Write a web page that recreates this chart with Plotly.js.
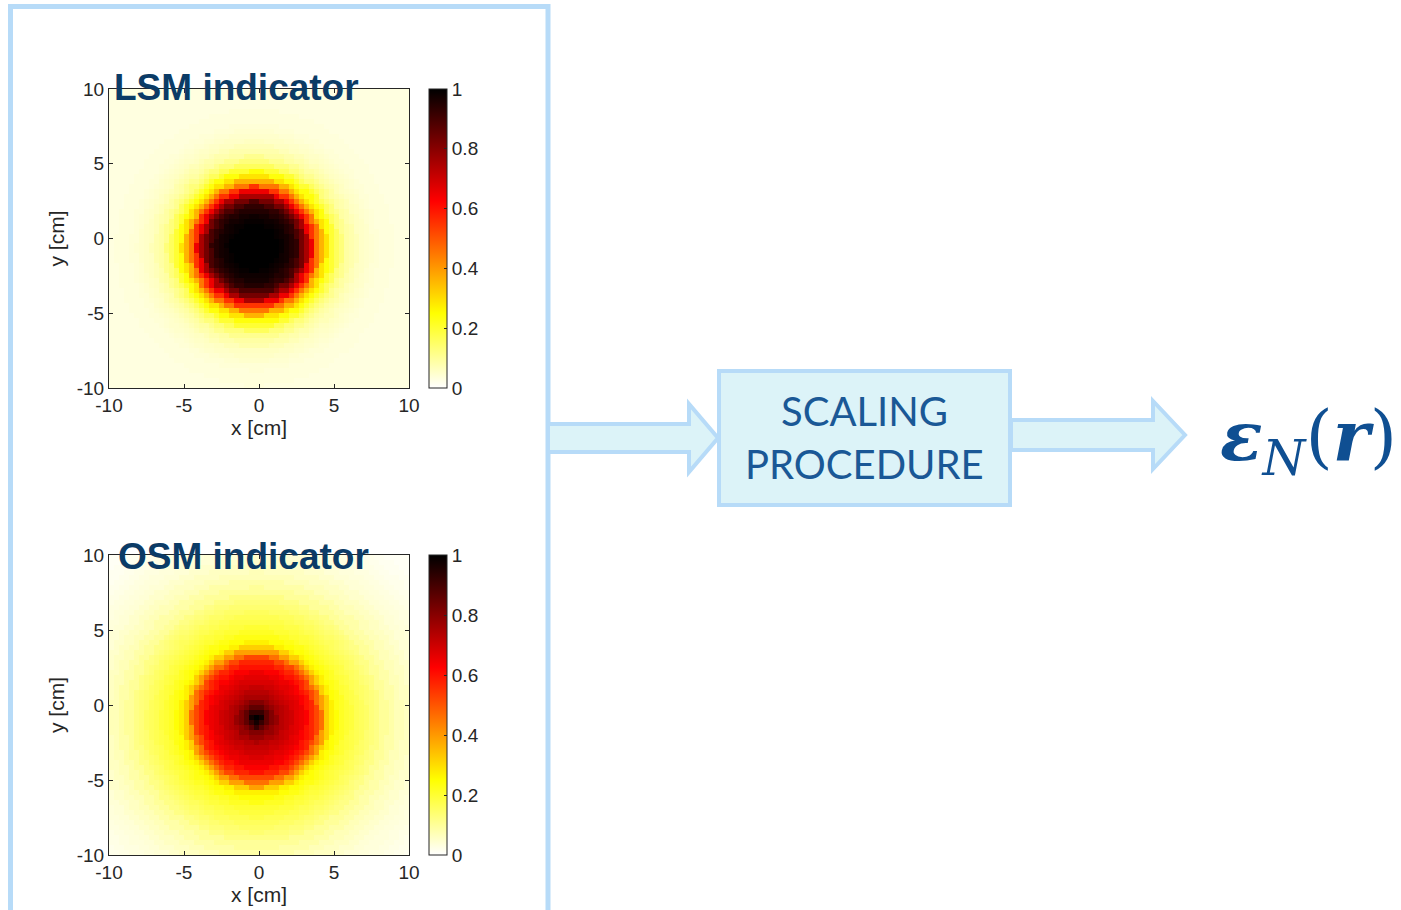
<!DOCTYPE html>
<html>
<head>
<meta charset="utf-8">
<script src="https://cdn.plot.ly/plotly-3.0.1.min.js"></script>
<style>html,body{margin:0;padding:0;background:#fff;}#chart{width:1401px;height:910px;}</style>
</head>
<body>
<div id="chart"></div>
<script>
// ---- data ----
// radial profile samples (cm from the spot centre) and indicator values along the radius
const radiusSamples = [0,0.25,0.5,0.75,1,1.25,1.5,1.75,2,2.25,2.5,2.75,3,3.25,3.5,3.75,4,4.25,4.5,4.75,5,5.25,5.5,5.75,6,6.25,6.5,6.75,7,7.25,7.5,7.75,8,8.5,9,9.5,10,10.5,11,11.5,12,12.5,13,13.5,14,14.5];
const lsmProfile = [1,1,1,1,1,1,1,0.99,0.98,0.97,0.95,0.93,0.89,0.83,0.75,0.65,0.55,0.45,0.36,0.29,0.24,0.2,0.16,0.13,0.11,0.09,0.08,0.07,0.06,0.055,0.05,0.045,0.04,0.035,0.035,0.03,0.03,0.03,0.03,0.03,0.03,0.03,0.03,0.03,0.03,0.03];
const osmProfile = [1,0.97,0.92,0.86,0.81,0.78,0.75,0.73,0.71,0.695,0.68,0.665,0.65,0.63,0.6,0.57,0.52,0.46,0.39,0.32,0.27,0.245,0.23,0.215,0.2,0.19,0.18,0.17,0.16,0.15,0.14,0.13,0.12,0.1,0.085,0.07,0.06,0.05,0.04,0.035,0.03,0.025,0.02,0.015,0.01,0.01];
const lsmCenter = [-0.3, -0.6];
const osmCenter = [-0.16, -0.9];
const axisTicks = [-10,-5,0,5,10];
const axisTickText = ['-10','-5','0','5','10'];
const cbTicks = [0,0.2,0.4,0.6,0.8,1];
const cbTickText = ['0','0.2','0.4','0.6','0.8','1'];
const titles = ['LSM indicator','OSM indicator'];
const boxLines = ['SCALING','PROCEDURE'];

// ---- grid built from the profiles (nearest radius sample lookup) ----
const N = 60;
const gx = [];
for (let i = 0; i < N; i++) gx.push(-10 + (i + 0.5) * 20 / N);
function lookup(profile, r) {
  let best = 0;
  for (let k = 1; k < radiusSamples.length; k++) {
    if (Math.abs(radiusSamples[k] - r) < Math.abs(radiusSamples[best] - r)) best = k;
  }
  return profile[best];
}
function buildZ(profile, c) {
  const z = [];
  for (let j = 0; j < N; j++) {
    const row = [];
    for (let i = 0; i < N; i++) row.push(lookup(profile, Math.hypot(gx[i] - c[0], gx[j] - c[1])));
    z.push(row);
  }
  return z;
}

const W = 1401, H = 910;
const px = x => x / W;
const py = y => 1 - y / H;

const hot = [[0,'#ffffff'],[0.25,'#ffff00'],[0.625,'#ff0000'],[1,'#000000']];
const tickFont = {family:'Liberation Sans, Arial, sans-serif', size:19, color:'#262626'};

function cb(top, bottom) {
  return {x:px(429), xanchor:'left', y:py((top+bottom)/2), yanchor:'middle',
    len:(bottom-top)/H, lenmode:'fraction', thickness:18, thicknessmode:'pixels',
    xpad:0, ypad:0, outlinewidth:1, outlinecolor:'#262626',
    ticks:'inside', ticklen:3, tickcolor:'#262626', tickvals:cbTicks, ticktext:cbTickText,
    tickfont:tickFont};
}

const traces = [
  {type:'heatmap', x:gx, y:gx, z:buildZ(lsmProfile, lsmCenter), zmin:0, zmax:1,
   colorscale:hot, xaxis:'x', yaxis:'y', colorbar:cb(89,388), hoverinfo:'skip'},
  {type:'heatmap', x:gx, y:gx, z:buildZ(osmProfile, osmCenter), zmin:0, zmax:1,
   colorscale:hot, xaxis:'x2', yaxis:'y2', colorbar:cb(555,855), hoverinfo:'skip'}
];

function ax(domain, anchor, title, standoff) {
  return {domain:domain, anchor:anchor, range:[-10,10], tickvals:axisTicks, ticktext:axisTickText,
    ticks:'inside', ticklen:4, tickcolor:'#262626', showline:true, linecolor:'#262626', linewidth:1,
    mirror:'ticks', showgrid:false, zeroline:false, tickfont:tickFont,
    title:{text:title, font:{family:'Liberation Sans, Arial, sans-serif', size:21, color:'#262626'}, standoff:standoff}};
}

const frameColor = '#b7dbf8';
const boxFill = '#dcf3f8';
function poly(pts) {
  return 'M ' + pts.map(p => px(p[0]) + ',' + py(p[1])).join(' L ') + ' Z';
}

const shapes = [
  {type:'path', xref:'paper', yref:'paper', path:poly([[10.5,6.5],[548,6.5],[548,920],[10.5,920]]),
   line:{color:frameColor, width:5}, fillcolor:'rgba(0,0,0,0)', layer:'below'},
  {type:'path', xref:'paper', yref:'paper',
   path:poly([[548,424],[689,424],[689,404],[718,438],[689,472],[689,452],[548,452]]),
   line:{color:frameColor, width:4}, fillcolor:boxFill},
  {type:'path', xref:'paper', yref:'paper',
   path:poly([[1011,420],[1153,420],[1153,401],[1185,435],[1153,469],[1153,450],[1011,450]]),
   line:{color:frameColor, width:4}, fillcolor:boxFill},
  {type:'path', xref:'paper', yref:'paper',
   path:poly([[719,371],[1010,371],[1010,505],[719,505]]),
   line:{color:frameColor, width:4}, fillcolor:boxFill}
];

const titleFont = {family:'Liberation Sans, Arial, sans-serif', size:37, color:'#0b3b66', weight:'bold'};
const boxFont = {family:'Lato, sans-serif', size:40, color:'#1a5896'};
const mathFont = {family:'DejaVu Serif, serif', size:70, color:'#0f4f92'};
const annotations = [
  {text:titles[0], xref:'paper', yref:'paper', x:px(112), y:py(87), xanchor:'left', yanchor:'middle', showarrow:false, font:titleFont},
  {text:titles[1], xref:'paper', yref:'paper', x:px(116), y:py(556), xanchor:'left', yanchor:'middle', showarrow:false, font:titleFont},
  {text:boxLines[0], xref:'paper', yref:'paper', x:px(864), y:py(411), xanchor:'center', yanchor:'middle', showarrow:false, font:boxFont},
  {text:boxLines[1], xref:'paper', yref:'paper', x:px(864), y:py(464), xanchor:'center', yanchor:'middle', showarrow:false, font:boxFont},
  {text:'<b><i>ε</i></b><sub><i>N</i></sub>(<b><i>r</i></b>)', xref:'paper', yref:'paper', x:px(1218), y:py(440),
   xanchor:'left', yanchor:'middle', showarrow:false, font:mathFont}
];

const layout = {
  width:W, height:H, margin:{l:0,r:0,t:0,b:0}, paper_bgcolor:'#ffffff', plot_bgcolor:'#ffffff',
  showlegend:false,
  xaxis: ax([px(109), px(409)], 'y', 'x [cm]', 5),
  yaxis: ax([py(388), py(89)], 'x', 'y [cm]', 6),
  xaxis2: ax([px(109), px(409)], 'y2', 'x [cm]', 5),
  yaxis2: ax([py(855), py(555)], 'x2', 'y [cm]', 6),
  shapes: shapes, annotations: annotations
};

Plotly.newPlot('chart', traces, layout, {staticPlot:true, displayModeBar:false});
</script>
</body>
</html>
